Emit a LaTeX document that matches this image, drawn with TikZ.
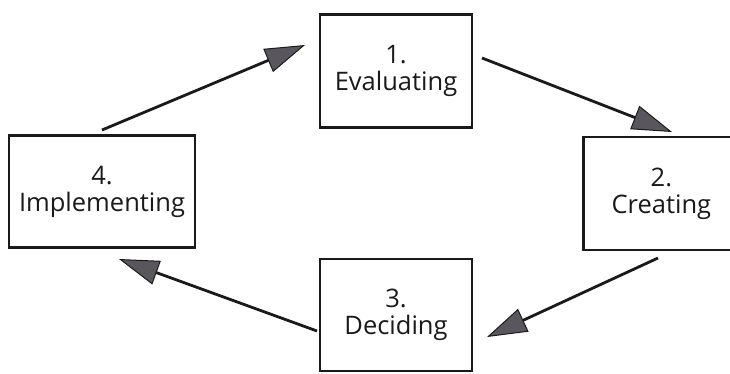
\documentclass[tikz,border=0pt]{standalone}
\usepackage{fontspec}
\setmainfont{Open Sans}
\usetikzlibrary{arrows.meta}
\definecolor{headgray}{HTML}{5A565E}
\definecolor{ink}{HTML}{1A1A1A}
\tikzset{
  stage/.style={draw=ink, line width=2.8pt, fill=white, inner sep=0pt,
    align=center, font=\fontsize{25.5}{27}\selectfont, text=ink},
  flow/.style={draw=ink, line width=2.8pt,
    -{Triangle[length=40pt,width=25pt,fill=headgray,line width=1pt]}}
}
\begin{document}
\begin{tikzpicture}[x=1pt,y=-1pt]
  \useasboundingbox (0,0) rectangle (730,373);
  % the four stages
  \node[stage, minimum width=152pt, minimum height=113pt] (eval) at (396,71) {1.\\Evaluating};
  \node[stage, minimum width=156pt, minimum height=113pt, anchor=west] (create) at (582,193.5) {2.\\Creating};
  \node[stage, minimum width=152pt, minimum height=112pt] (decide) at (396,315) {3.\\Deciding};
  \node[stage, minimum width=186pt, minimum height=112pt] (impl) at (102,191.5) {4.\\Implementing};
  % arrow end points
  \coordinate (s41) at (102,130);
  \coordinate (t41) at (305,45);
  \coordinate (s12) at (482,58);
  \coordinate (t12) at (672,132);
  \coordinate (s23) at (658,258);
  \coordinate (t23) at (487,337);
  \coordinate (s34) at (317,331);
  \coordinate (t34) at (119,259);
  % cycle connectors
  \draw[flow] (s41) -- (t41);
  \draw[flow] (s12) -- (t12);
  \draw[flow] (s23) -- (t23);
  \draw[flow] (s34) -- (t34);
\end{tikzpicture}
\end{document}
